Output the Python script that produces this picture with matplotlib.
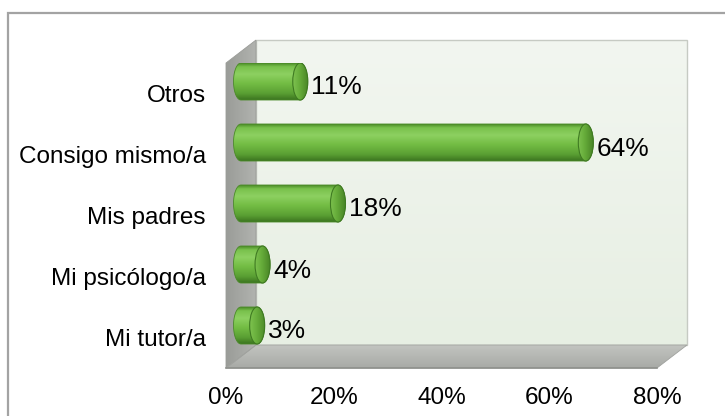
import numpy as np
import matplotlib
matplotlib.use("Agg")
import matplotlib.pyplot as plt
import matplotlib.transforms as mtransforms
from matplotlib.patches import Polygon, Ellipse
from matplotlib.colors import LinearSegmentedColormap

plt.rcParams['font.family'] = ['Liberation Sans', 'DejaVu Sans']

# ---- data ----
categories = ["Mi tutor/a", "Mi psicólogo/a", "Mis padres", "Consigo mismo/a", "Otros"]
values = [3, 4, 18, 64, 11]
xticks = [0, 20, 40, 60, 80]
xtick_labels = ["0%", "20%", "40%", "60%", "80%"]

W, H = 725, 416
fig = plt.figure(figsize=(W / 100, H / 100), dpi=100)

# layout (pixels) of the front plane of the 3D box and its depth
AX_L, AX_R, AX_T, AX_B = 226, 657, 63, 368
DX, DY = 30, -23

# ---- background axes in pixel coordinates for the chart frame ----
bg = fig.add_axes([0, 0, 1, 1], zorder=0)
bg.set_xlim(0, W)
bg.set_ylim(H, 0)
bg.axis('off')

bg.plot([8.5, 8.5, W + 5], [H + 5, 12.5, 12.5], color='#a3a3a3', lw=1.6,
        solid_joinstyle='miter', clip_on=False)

def grad_fill(axis, poly_xy, c0, c1, direction='v', zorder=1):
    poly = Polygon(poly_xy, closed=True, facecolor='none', edgecolor='none',
                   transform=axis.transData)
    axis.add_patch(poly)
    xs = [p[0] for p in poly_xy]
    ys = [p[1] for p in poly_xy]
    cmap = LinearSegmentedColormap.from_list('g', [c0, c1])
    g = np.linspace(0, 1, 256)
    arr = g[:, None] if direction == 'v' else g[None, :]
    im = axis.imshow(arr, cmap=cmap, aspect='auto', interpolation='bilinear',
                     extent=(min(xs), max(xs), max(ys), min(ys)), zorder=zorder,
                     origin='upper')
    im.set_clip_path(poly)
    return im

back = [(AX_L + DX, AX_T + DY), (AX_R + DX, AX_T + DY),
        (AX_R + DX, AX_B + DY), (AX_L + DX, AX_B + DY)]
left = [(AX_L, AX_T), (AX_L + DX, AX_T + DY), (AX_L + DX, AX_B + DY), (AX_L, AX_B)]
floor = [(AX_L, AX_B), (AX_L + DX, AX_B + DY), (AX_R + DX, AX_B + DY), (AX_R, AX_B)]

grad_fill(bg, back, '#f2f6f0', '#e7efe3', 'v', zorder=1)
bg.add_patch(Polygon(back, closed=True, facecolor='none', edgecolor='#c6cac3',
                     lw=1.0, zorder=2))
grad_fill(bg, left, '#9a9c98', '#b1b3af', 'h', zorder=3)
bg.add_patch(Polygon(left, closed=True, facecolor='none', edgecolor='#9a9c98',
                     lw=0.6, zorder=4))
grad_fill(bg, floor, '#c2c4c0', '#a8aaa6', 'v', zorder=3)
bg.add_patch(Polygon(floor, closed=True, facecolor='none', edgecolor='#a0a29e',
                     lw=0.6, zorder=4))
bg.plot([AX_L, AX_R], [AX_B, AX_B], color='#8e908c', lw=1.2, zorder=5)
bg.set_xlim(0, W)
bg.set_ylim(H, 0)

# ---- data axes (front plane) ----
ax = fig.add_axes([AX_L / W, (H - AX_B) / H, (AX_R - AX_L) / W, (AX_B - AX_T) / H],
                  zorder=1)
ax.patch.set_alpha(0)
for s in ax.spines.values():
    s.set_visible(False)
XMAX = 80
ax.set_xlim(0, XMAX)
ax.set_ylim(-0.5, len(categories) - 0.5)

px_per_x = (AX_R - AX_L) / XMAX
px_per_y = (AX_B - AX_T) / len(categories)

def off(dx, dy):
    return ax.transData + mtransforms.ScaledTranslation(dx / fig.dpi, dy / fig.dpi,
                                                         fig.dpi_scale_trans)

bar_tr = off(15, 12)
rx = 7.5 / px_per_x
bh = 37 / px_per_y

body_cmap = LinearSegmentedColormap.from_list('body', [
    (0.00, '#4a8a27'), (0.10, '#79c14c'), (0.30, '#8dd061'),
    (0.55, '#73bd44'), (0.82, '#5a9f33'), (1.00, '#3b7420')])
cap_cmap = LinearSegmentedColormap.from_list('cap', [
    (0.0, '#7dc24f'), (0.45, '#66ac3a'), (1.0, '#4a8727')])

t_r = np.linspace(np.pi / 2, -np.pi / 2, 40)
t_l = np.linspace(3 * np.pi / 2, np.pi / 2, 40)
for i, v in enumerate(values):
    xs = np.concatenate([v + rx * np.cos(t_r), 0 + rx * np.cos(t_l)])
    ys = np.concatenate([i + bh / 2 * np.sin(t_r), i + bh / 2 * np.sin(t_l)])
    stadium = Polygon(np.column_stack([xs, ys]), closed=True, facecolor='none',
                      edgecolor='#4a8a27', lw=0.6, transform=bar_tr, zorder=3)
    ax.add_patch(stadium)
    g = np.linspace(0, 1, 256)[:, None]
    im = ax.imshow(g, cmap=body_cmap, aspect='auto', interpolation='bilinear',
                   extent=(-rx, v + rx, i - bh / 2, i + bh / 2), origin='upper',
                   transform=bar_tr, zorder=2)
    im.set_clip_path(stadium)
    cap = Ellipse((v, i), 2 * rx, bh, facecolor='none', edgecolor='#3f7a22',
                  lw=0.8, transform=bar_tr, zorder=5)
    ax.add_patch(cap)
    gh = np.linspace(0, 1, 128)[None, :]
    imc = ax.imshow(gh, cmap=cap_cmap, aspect='auto', interpolation='bilinear',
                    extent=(v - rx, v + rx, i - bh / 2, i + bh / 2), origin='upper',
                    transform=bar_tr, zorder=4)
    imc.set_clip_path(cap)
    ax.text(v, i, f"{v}%", transform=off(26, 6), ha='left', va='center',
            fontsize=19, color='#000000', zorder=6)

ax.set_xlim(0, XMAX)
ax.set_ylim(-0.5, len(categories) - 0.5)
ax.set_aspect('auto')

ax.set_xticks(xticks)
ax.set_xticklabels(xtick_labels, fontsize=17.5)
ax.set_yticks(range(len(categories)))
ax.set_yticklabels(categories, fontsize=17.5)
ax.tick_params(axis='x', length=0, pad=13.5)
ax.tick_params(axis='y', length=0, pad=14.5)

fig.savefig("out.png", dpi=100)
